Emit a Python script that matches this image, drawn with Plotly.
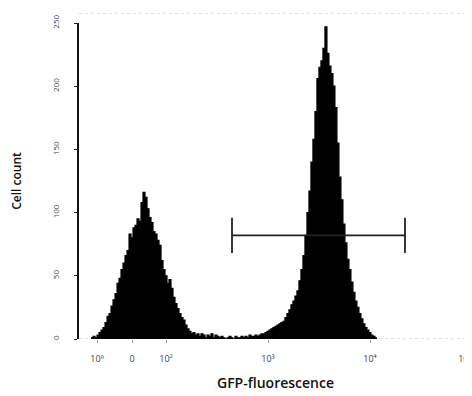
import plotly.graph_objects as go

# Histogram bins: start (log10 fluorescence) and bin width in decades
bin_start_log = 1.265
bin_width_log = 0.0196

counts = [
    1, 2, 1, 3, 5, 7, 9, 13, 18, 20, 26, 31, 36, 44, 48, 55, 60, 66, 70, 83,
    80, 88, 90, 95, 93, 108, 116, 112, 103, 96, 92, 85, 83, 78, 74, 62, 55, 50, 44, 47,
    40, 33, 28, 24, 20, 17, 15, 11, 8, 6, 4, 5, 3, 4, 2, 4, 3, 1, 3, 2,
    4, 1, 3, 2, 1, 2, 1, 0, 1, 2, 1, 0, 2, 1, 1, 2, 1, 2, 1, 3,
    2, 2, 3, 2, 3, 4, 4, 5, 6, 7, 8, 9, 10, 11, 12, 13, 14, 17, 20, 23,
    27, 30, 34, 38, 46, 55, 66, 82, 100, 117, 140, 158, 180, 206, 215, 220, 230, 247, 226, 216,
    210, 200, 183, 155, 128, 110, 91, 76, 63, 55, 45, 37, 30, 25, 20, 16, 12, 9, 7, 5,
    3, 2, 1,
]

# Gate marker (log10 bounds and height)
gate_lo_log = 2.647
gate_hi_log = 4.343
gate_y = 82
gate_cap = [68, 96]

y_ticks = [0, 50, 100, 150, 200, 250]
x_tick_logs = [1.324, 1.667, 2, 3, 4, 4.93]
x_tick_text = ["10⁰", "0", "10²", "10³", "10⁴", "10⁵"]

edges = [10 ** (bin_start_log + i * bin_width_log) for i in range(len(counts) + 1)]
xs = edges
ys = counts + [counts[-1]]

fig = go.Figure()
fig.add_trace(go.Scatter(
    x=xs, y=ys, mode="lines", line=dict(color="black", width=1.2, shape="hv"),
    fill="tozeroy", fillcolor="black", hoverinfo="skip", showlegend=False))

lo = 10 ** gate_lo_log
hi = 10 ** gate_hi_log
fig.add_trace(go.Scatter(x=[lo, hi], y=[gate_y, gate_y], mode="lines",
                         line=dict(color="#222", width=1.6), showlegend=False))
for xv in (lo, hi):
    fig.add_trace(go.Scatter(x=[xv, xv], y=gate_cap, mode="lines",
                             line=dict(color="#222", width=1.8), showlegend=False))

# faint dotted baseline and top border
fig.add_shape(type="line", xref="paper", yref="y", x0=0, x1=1, y0=0, y1=0,
              line=dict(color="#bbb", width=1, dash="dot"), layer="below")
fig.add_shape(type="line", xref="paper", yref="paper", x0=0, x1=1, y0=1.03, y1=1.03,
              line=dict(color="#ddd", width=1, dash="dot"))

# page body adds an 8px offset, so the figure is sized to the visible window
fig.update_layout(
    width=464, height=388,
    margin=dict(l=71, r=0, t=15, b=57),
    paper_bgcolor="white", plot_bgcolor="white",
    font=dict(family="Open Sans", color="#333"),
)
fig.update_xaxes(
    type="log", range=[1.147, 5.0], automargin=False,
    tickvals=[10 ** v for v in x_tick_logs], ticktext=x_tick_text,
    tickfont=dict(size=9, color="#444"), ticks="outside", ticklen=3,
    ticklabelstandoff=8, ticklabeloverflow="allow",
    tickcolor="#999", showgrid=False, zeroline=False, showline=False,
    title=dict(text="GFP-fluorescence", font=dict(size=14, color="#111", weight=600), standoff=14),
)
fig.update_yaxes(
    range=[0, 250], tickvals=y_ticks, tickangle=-90, automargin=False,
    tickfont=dict(size=8, color="#444"), ticks="outside", ticklen=3, tickcolor="#222",
    ticklabelstandoff=12,
    showgrid=False, zeroline=False, showline=True, linecolor="#111", linewidth=1.5,
    title=dict(text="Cell count", font=dict(size=12, color="#111", weight=600), standoff=28),
)

fig.write_html("out.html")
